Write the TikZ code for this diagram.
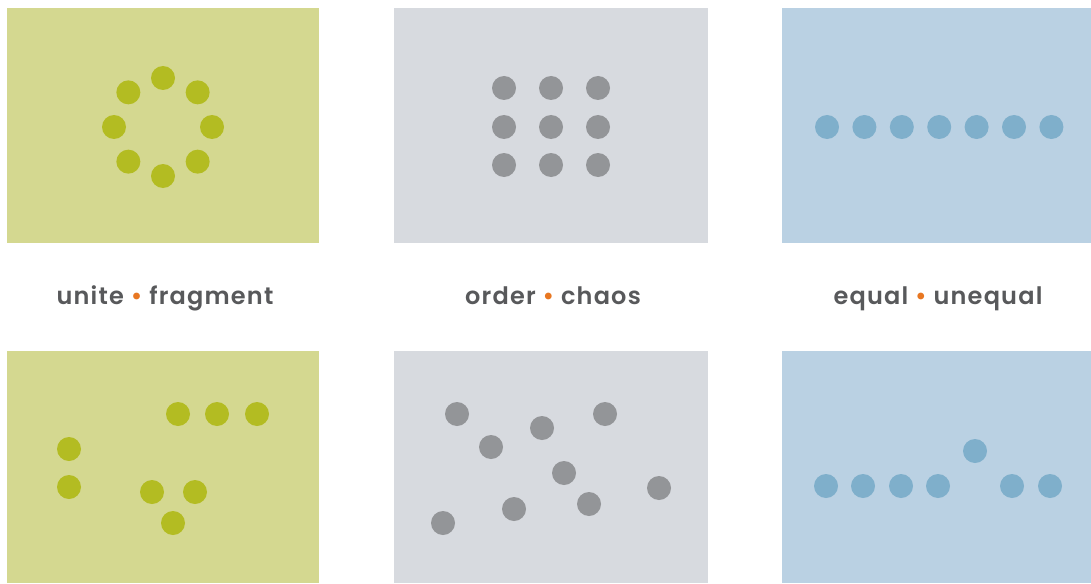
\documentclass[tikz,border=0pt]{standalone}
\usepackage{fontspec}
\setmainfont{Poppins}[UprightFont={* SemiBold},LetterSpace=5]
\usepackage{tikz}
\usetikzlibrary{positioning}
\definecolor{olive}{RGB}{212,216,144}
\definecolor{olivedot}{RGB}{179,188,34}
\definecolor{stone}{RGB}{215,218,223}
\definecolor{stonedot}{RGB}{147,149,152}
\definecolor{sky}{RGB}{186,209,227}
\definecolor{skydot}{RGB}{127,175,203}
\definecolor{ink}{RGB}{88,89,91}
\definecolor{spark}{RGB}{232,119,34}
\newcommand{\sep}{ \textcolor{spark}{\textbullet} }

\begin{document}
\begin{tikzpicture}[x=1pt,y=-1pt,
  lbl/.style={text=ink,font=\fontsize{24}{28}\selectfont,inner sep=0pt,anchor=base},
  dot/.style={radius=12}]
  \useasboundingbox[fill=white] (0,0) rectangle (1091,583);
  % panels
  \fill[olive] (7,8) rectangle (319,243);
  \fill[stone] (394,8) rectangle (708,243);
  \fill[sky] (782,8) rectangle (1091,243);
  \fill[olive] (7,351) rectangle (319,583);
  \fill[stone] (394,351) rectangle (708,583);
  \fill[sky] (782,351) rectangle (1091,583);
  % unite
  \foreach \a in {0,45,...,315}{\fill[olivedot] (163,127) ++(\a:49) circle[dot];}
  % fragment
  \foreach \x/\y in {178/414,217/414,257/414,69/449,69/487,152/492,195/492,173/523}
    {\fill[olivedot] (\x,\y) circle[dot];}
  % order
  \foreach \x in {504,551,598}
    \foreach \y in {88,127,165}{\fill[stonedot] (\x,\y) circle[dot];}
  % chaos
  \foreach \x/\y in {457/414,491/447,542/428,605/414,564/473,659/488,514/509,589/504,443/523}
    {\fill[stonedot] (\x,\y) circle[dot];}
  % equal
  \foreach \i in {0,...,6}{\fill[skydot] (827+37.4*\i,127) circle[dot];}
  % unequal
  \foreach \x/\y in {826/486,863/486,901/486,938/486,975/451,1012/486,1050/486}
    {\fill[skydot] (\x,\y) circle[dot];}
  % labels
  \node[lbl] (unite) at (165,304) {unite\sep fragment};
  \node[lbl] (order) at (553,304) {order\sep chaos};
  \node[lbl] (equal) at (938,304) {equal\sep unequal};
\end{tikzpicture}
\end{document}
